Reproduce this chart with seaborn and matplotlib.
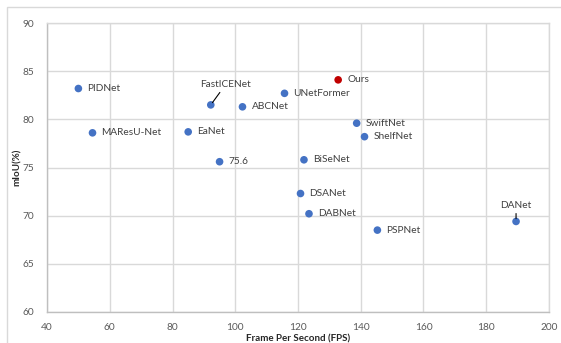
import seaborn as sns
import pandas as pd
import matplotlib.pyplot as plt
from matplotlib.patches import Rectangle

models = ["PIDNet", "MAResU-Net", "EaNet", "FastICENet", "ABCNet", "75.6",
          "UNetFormer", "Ours", "SwiftNet", "ShelfNet", "BiSeNet", "DSANet",
          "DABNet", "PSPNet", "DANet"]
fps = [50.0, 54.5, 85.0, 92.2, 102.3, 95.0, 115.7, 132.8, 138.7, 141.2,
       121.9, 120.8, 123.5, 145.3, 189.5]
miou = [83.2, 78.6, 78.7, 81.5, 81.3, 75.6, 82.7, 84.1, 79.6, 78.2,
        75.8, 72.3, 70.2, 68.5, 69.4]
group = ["other"] * len(models)
group[models.index("Ours")] = "ours"

df = pd.DataFrame({"FPS": fps, "mIoU": miou, "Model": models, "Group": group})

sns.set_style("white")
plt.rcParams['font.family'] = ['Lato', 'DejaVu Sans']

fig = plt.figure(figsize=(5.61, 3.43), dpi=100)
ax = fig.add_axes([0.0838, 0.0904, 0.8948, 0.8425])

# outer chart-area border (cropped on right and bottom)
fig.patches.append(Rectangle((7 / 561, -0.1), 1.2, 1 - 7 / 343 + 0.1, transform=fig.transFigure,
                             fill=False, edgecolor="#d9d9d9", linewidth=1.0))

sns.scatterplot(data=df, x="FPS", y="mIoU", hue="Group",
                palette={"other": "#4472C4", "ours": "#C00000"},
                s=30, edgecolor="none", legend=False, ax=ax, zorder=3)

label_color = "#404040"
fs = 7.3
for m, x, y in zip(models, fps, miou):
    if m == "FastICENet":
        ax.annotate(m, xy=(x, y), xytext=(x + 4.7, y + 2.1), ha="center", va="center",
                    fontsize=fs, color=label_color,
                    arrowprops=dict(arrowstyle="-", color="black", lw=0.8, shrinkA=0, shrinkB=2))
    elif m == "DANet":
        ax.annotate(m, xy=(x, y), xytext=(x, y + 1.7), ha="center", va="center",
                    fontsize=fs, color=label_color,
                    arrowprops=dict(arrowstyle="-", color="black", lw=0.8, shrinkA=0.5, shrinkB=2))
    else:
        ax.annotate(m, xy=(x, y), xytext=(9, 0), textcoords="offset pixels",
                    ha="left", va="center", fontsize=fs, color=label_color)

ax.set_xlim(40, 200)
ax.set_ylim(60, 90)
ax.set_xticks(range(40, 201, 20))
ax.set_yticks(range(60, 91, 5))
ax.grid(True, color="#d9d9d9", linewidth=1.0)
ax.set_axisbelow(True)
for sp in ax.spines.values():
    sp.set_color("#d9d9d9")
    sp.set_linewidth(1.0)
ax.spines["left"].set_color("#bfbfbf")
ax.spines["bottom"].set_color("#bfbfbf")
ax.tick_params(axis="both", length=0, labelsize=7.3, labelcolor="#595959")
ax.tick_params(axis="x", pad=8)
ax.tick_params(axis="y", pad=9)
ax.set_xlabel("Frame Per Second (FPS)", fontsize=7, fontweight="bold", color="#262626")
ax.set_ylabel("mIoU(%)", fontsize=7, fontweight="bold", color="#262626")
ax.xaxis.set_label_coords(0.5, -0.076)
ax.yaxis.set_label_coords(-0.05, 0.5)

plt.savefig("out.png", dpi=100)
plt.close()
